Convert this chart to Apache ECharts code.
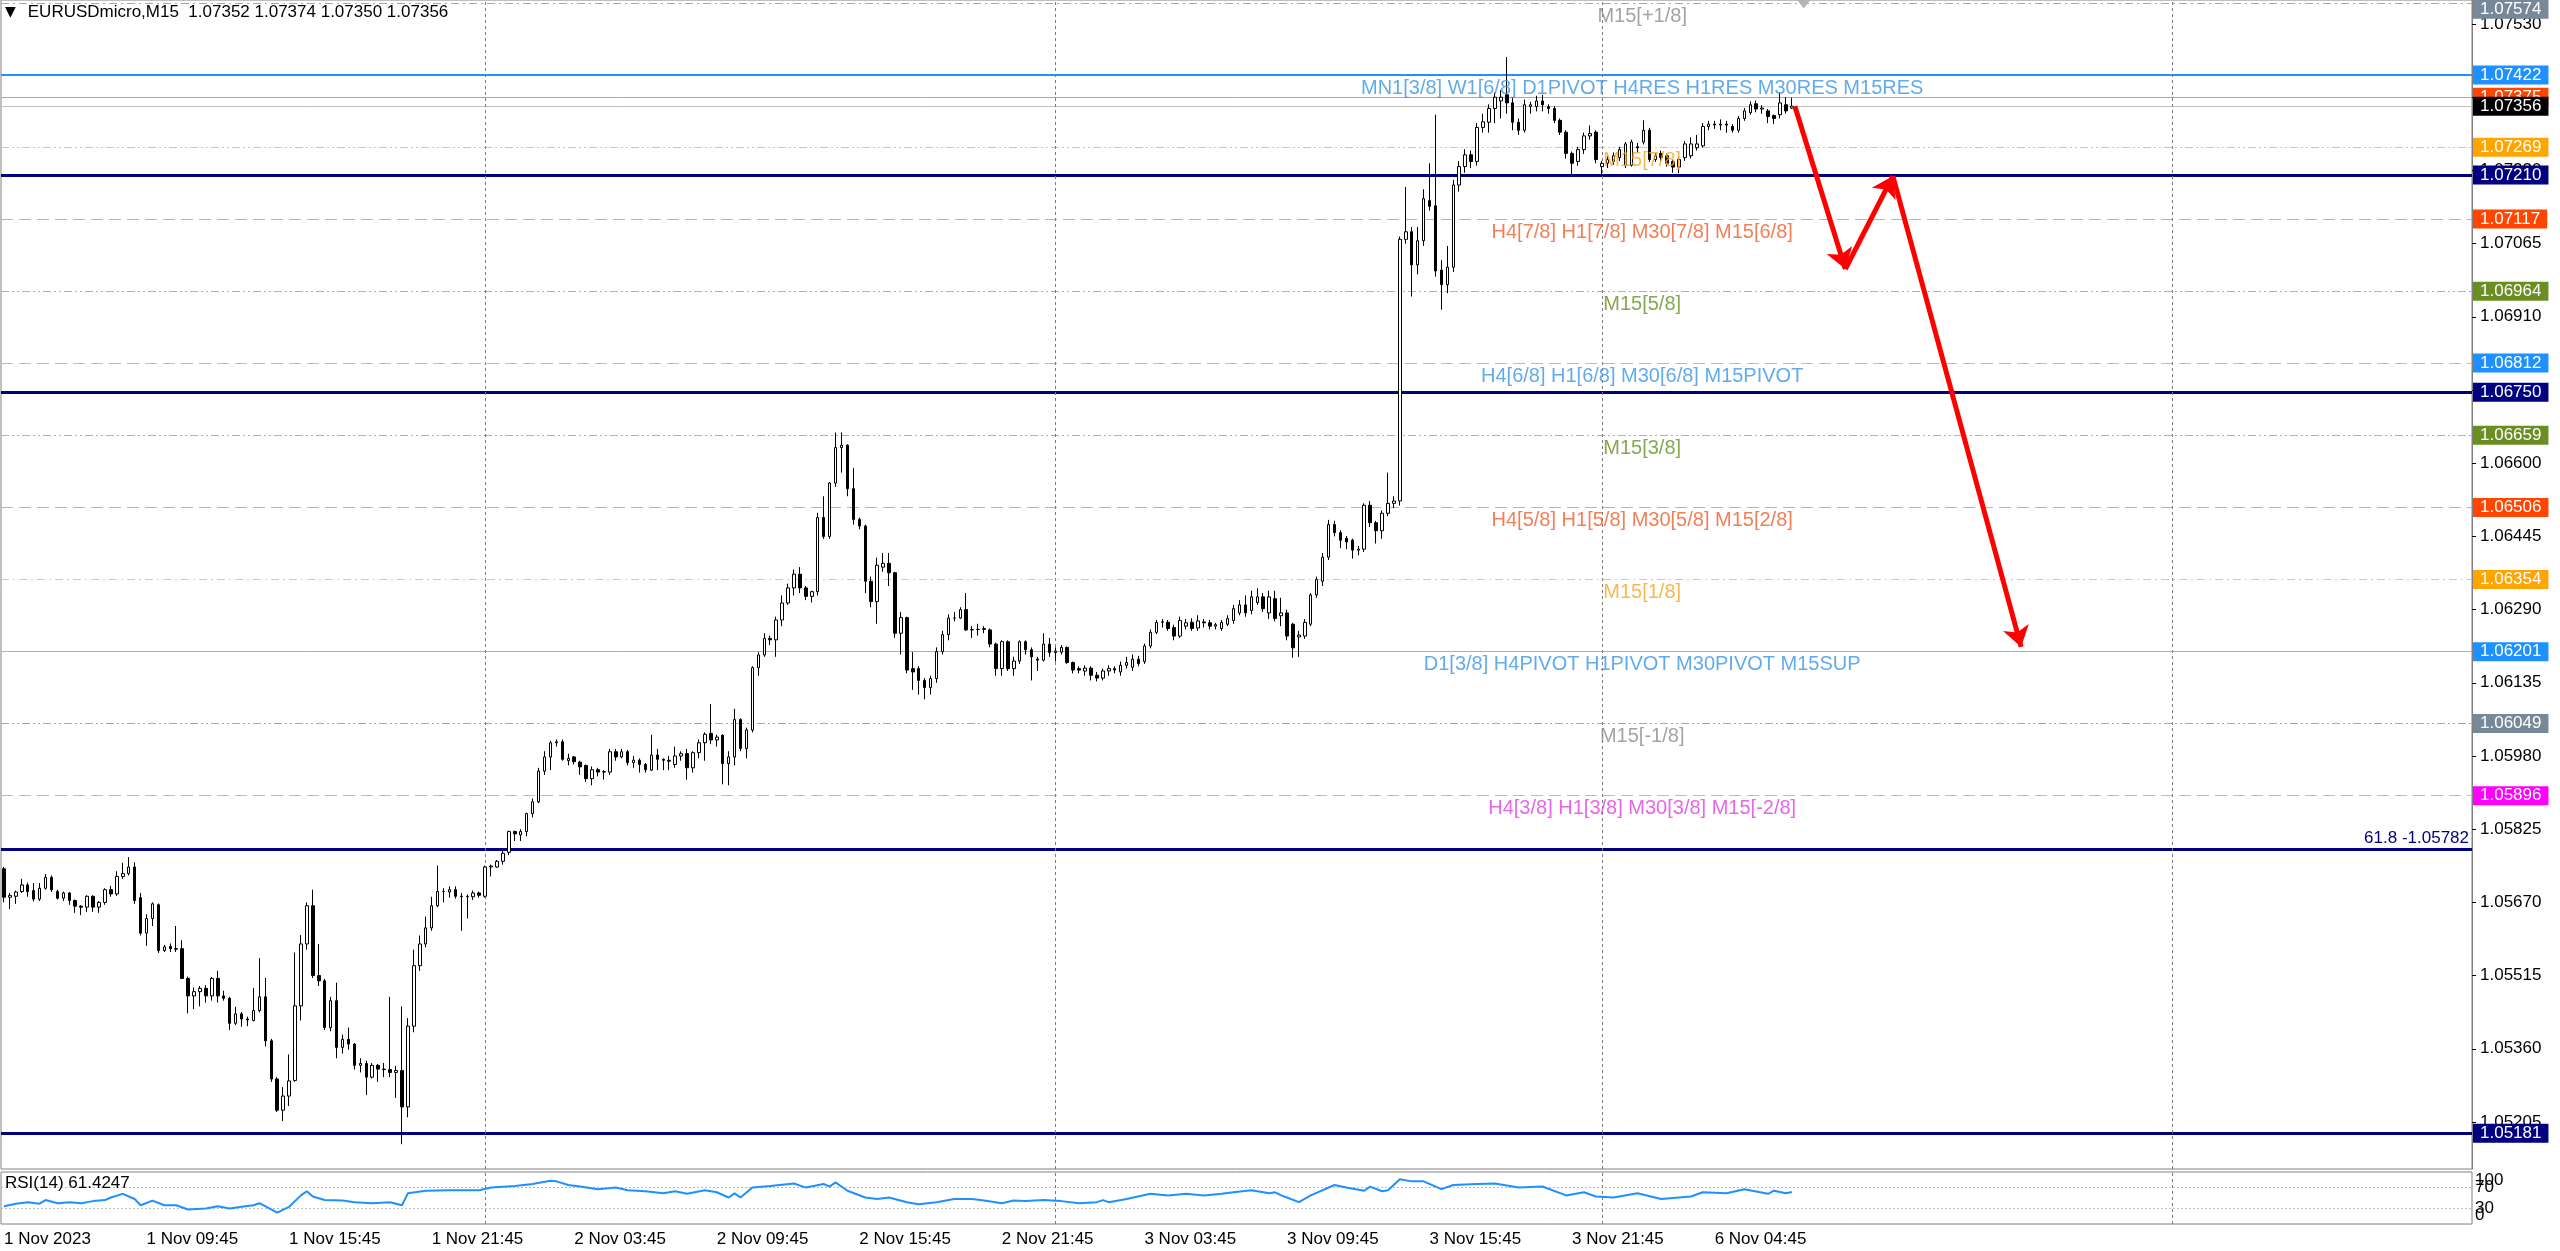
<!DOCTYPE html>
<html><head><meta charset="utf-8">
<script src="https://cdn.jsdelivr.net/npm/echarts@6/dist/echarts.min.js"></script>
<style>html,body{margin:0;padding:0;background:#fff}#c{width:2560px;height:1251px}</style>
</head><body><div id="c"></div>
<script>
// ---------------- DATA ----------------
const symbolName = 'EURUSDmicro';
const timeframe = 'M15';
// M15 bars [open, high, low, close] in points (price * 100000)
const ohlc = [
[105741,105745,105670,105681],[105681,105690,105656,105685],[105683,105695,105667,105692],[105693,105720,105690,105707],
[105707,105712,105682,105693],[105695,105711,105672,105677],[105677,105711,105673,105700],[105700,105730,105697,105723],
[105723,105727,105692,105697],[105693,105697,105676,105679],[105679,105693,105673,105690],[105690,105692,105665,105674],
[105674,105676,105648,105662],[105662,105664,105643,105660],[105660,105685,105650,105683],[105683,105685,105650,105660],
[105660,105673,105648,105670],[105670,105700,105665,105697],[105697,105705,105682,105688],[105688,105736,105684,105725],
[105725,105754,105720,105731],[105731,105766,105727,105745],[105745,105755,105667,105674],[105680,105690,105600,105605],
[105605,105645,105578,105636],[105636,105670,105620,105667],[105665,105668,105563,105568],[105568,105580,105565,105576],
[105577,105583,105565,105572],[105572,105620,105565,105571],[105572,105590,105508,105509],[105509,105513,105435,105472],
[105472,105490,105444,105481],[105481,105493,105450,105488],[105488,105495,105458,105472],[105472,105512,105462,105509],
[105509,105525,105458,105472],[105472,105483,105462,105467],[105467,105470,105400,105414],[105414,105449,105410,105434],
[105434,105438,105407,105423],[105423,105428,105408,105421],[105420,105489,105418,105441],[105441,105552,105437,105470],
[105470,105510,105365,105377],[105377,105381,105290,105296],[105296,105300,105226,105230],[105230,105279,105207,105260],
[105260,105348,105239,105292],[105293,105564,105290,105451],[105451,105601,105420,105582],[105582,105670,105570,105663],
[105663,105697,105510,105515],[105515,105582,105493,105504],[105504,105508,105400,105405],[105405,105470,105397,105462],
[105462,105500,105340,105363],[105363,105390,105350,105380],[105380,105405,105358,105370],[105370,105372,105316,105325],
[105325,105340,105310,105329],[105329,105335,105262,105300],[105300,105330,105297,105325],[105325,105328,105290,105317],
[105317,105330,105300,105316],[105316,105470,105300,105310],[105310,105324,105256,105314],[105314,105450,105158,105237],
[105237,105425,105215,105408],[105408,105570,105395,105536],[105536,105600,105525,105582],[105582,105640,105575,105616],
[105616,105682,105610,105663],[105663,105748,105660,105693],[105693,105700,105670,105693],[105692,105704,105680,105697],
[105697,105704,105678,105683],[105683,105690,105610,105682],[105682,105687,105636,105683],[105682,105695,105675,105690],
[105690,105693,105680,105685],[105683,105748,105680,105745],[105745,105750,105725,105747],[105745,105760,105743,105757],
[105757,105780,105750,105774],[105776,105822,105770,105820],[105820,105822,105800,105815],[105813,105825,105800,105820],
[105820,105860,105810,105858],[105858,105890,105850,105883],[105883,105955,105880,105948],[105948,105990,105940,105978],
[105978,106012,105950,106008],[106008,106015,106000,106010],[106010,106015,105970,105973],[105970,105985,105960,105975],
[105978,105980,105962,105968],[105967,105970,105940,105957],[105960,105962,105925,105932],[105932,105958,105918,105951],
[105951,105955,105937,105946],[105946,105950,105930,105947],[105946,105995,105940,105989],[105989,105995,105970,105978],
[105978,105995,105975,105989],[105989,105993,105960,105966],[105966,105980,105955,105971],[105971,105975,105945,105962],
[105962,105965,105945,105951],[105950,106025,105948,105982],[105982,105995,105950,105973],[105973,105975,105950,105971],
[105971,105980,105950,105969],[105962,106000,105955,105980],[105980,105990,105970,105985],[105985,105995,105930,105955],
[105955,105990,105945,105987],[105987,106015,105975,106008],[106008,106030,105970,106026],[106028,106090,106005,106014],
[106014,106025,106000,106020],[106024,106026,105920,105964],[105964,105990,105918,105978],[105978,106080,105960,106057],
[106057,106060,105990,105996],[105996,106040,105975,106035],[106035,106170,106030,106167],[106167,106200,106150,106194],
[106194,106240,106190,106229],[106229,106235,106215,106226],[106226,106275,106190,106268],[106268,106320,106255,106304],
[106304,106345,106300,106336],[106336,106375,106320,106365],[106365,106380,106325,106336],[106336,106340,106310,106318],
[106318,106330,106305,106328],[106328,106495,106320,106485],[106485,106530,106440,106445],[106445,106560,106440,106558],
[106558,106665,106550,106633],[106633,106665,106580,106638],[106638,106640,106530,106546],[106546,106590,106470,106481],
[106481,106485,106460,106467],[106467,106470,106325,106350],[106350,106360,106295,106307],[106307,106400,106260,106384],
[106380,106410,106370,106388],[106388,106410,106340,106368],[106368,106370,106230,106240],[106240,106285,106195,106273],
[106273,106275,106155,106162],[106165,106200,106120,106158],[106165,106170,106110,106140],[106140,106145,106100,106125],
[106125,106150,106110,106144],[106144,106210,106135,106201],[106201,106245,106195,106237],[106237,106280,106225,106272],
[106272,106285,106265,106272],[106272,106295,106270,106290],[106290,106325,106245,106247],[106247,106255,106230,106248],
[106248,106260,106235,106248],[106248,106255,106240,106250],[106247,106250,106210,106217],[106217,106220,106150,106165],
[106165,106225,106150,106222],[106222,106225,106160,106165],[106165,106190,106150,106181],[106181,106225,106175,106222],
[106222,106225,106195,106205],[106205,106210,106140,106190],[106185,106190,106160,106183],[106183,106240,106180,106217],
[106217,106230,106190,106199],[106199,106210,106180,106202],[106200,106215,106195,106210],[106210,106212,106175,106178],
[106178,106180,106155,106162],[106165,106170,106155,106162],[106160,106172,106150,106166],[106166,106170,106140,106151],
[106151,106158,106138,106145],[106145,106165,106140,106160],[106160,106172,106150,106165],[106165,106170,106155,106162],
[106158,106180,106150,106172],[106172,106190,106165,106178],[106168,106195,106160,106185],[106185,106192,106170,106176],
[106180,106218,106175,106213],[106213,106248,106208,106242],[106242,106268,106238,106263],[106263,106270,106252,106264],
[106263,106268,106245,106250],[106252,106258,106225,106234],[106234,106275,106230,106267],[106255,106270,106248,106262],
[106263,106272,106245,106250],[106251,106278,106245,106266],[106264,106270,106252,106262],[106262,106268,106248,106255],
[106255,106262,106248,106258],[106250,106268,106245,106263],[106259,106278,106255,106271],[106267,106300,106260,106292],
[106283,106310,106278,106300],[106300,106320,106275,106283],[106288,106330,106280,106317],[106305,106335,106300,106317],
[106317,106325,106285,106292],[106283,106330,106270,106317],[106313,106330,106265,106271],[106277,106315,106255,106283],
[106283,106290,106225,106234],[106259,106262,106188,106209],[106232,106245,106190,106236],[106234,106270,106228,106263],
[106259,106325,106255,106321],[106321,106360,106315,106354],[106350,106410,106340,106401],[106401,106480,106395,106470],
[106470,106478,106445,106453],[106453,106458,106420,106437],[106441,106446,106418,106433],[106437,106440,106398,106416],
[106416,106425,106405,106418],[106418,106515,106412,106511],[106511,106520,106465,106474],[106474,106478,106430,106457],
[106457,106500,106440,106494],[106494,106580,106488,106515],[106515,106530,106505,106520],[106520,107080,106510,107074],
[107074,107185,107065,107090],[107090,107100,106953,107020],[107020,107100,107000,107071],[107071,107180,107060,107160],
[107156,107235,107135,107144],[107145,107338,106995,107007],[107009,107030,106925,106978],[106978,107060,106960,107015],
[107015,107200,107005,107189],[107189,107240,107175,107228],[107228,107265,107215,107253],[107253,107262,107225,107239],
[107239,107320,107230,107311],[107311,107340,107300,107323],[107322,107360,107300,107351],[107351,107385,107320,107375],
[107367,107390,107330,107375],[107380,107460,107340,107363],[107363,107375,107305,107322],[107322,107330,107295,107305],
[107305,107370,107300,107359],[107355,107365,107340,107359],[107355,107378,107345,107367],[107367,107380,107345,107359],
[107355,107360,107340,107351],[107351,107356,107320,107326],[107326,107330,107295,107301],[107301,107305,107245,107256],
[107256,107260,107212,107235],[107239,107270,107230,107264],[107264,107300,107255,107293],[107293,107315,107285,107298],
[107301,107305,107235,107243],[107228,107240,107210,107235],[107235,107250,107225,107243],[107239,107258,107232,107251],
[107247,107270,107240,107264],[107231,107280,107225,107276],[107231,107285,107228,107280],[107270,107278,107258,107268],
[107280,107326,107275,107305],[107305,107310,107238,107243],[107243,107256,107238,107251],[107256,107262,107240,107247],
[107251,107256,107228,107235],[107239,107243,107215,107227],[107227,107248,107214,107243],[107247,107282,107240,107276],
[107251,107290,107245,107276],[107268,107295,107262,107276],[107272,107320,107268,107313],[107313,107325,107305,107318],
[107318,107325,107308,107316],[107316,107328,107305,107318],[107318,107325,107300,107316],[107313,107318,107300,107305],
[107305,107335,107300,107330],[107330,107352,107325,107346],[107342,107366,107338,107359],[107361,107368,107343,107350],
[107350,107358,107340,107352],[107346,107350,107320,107334],[107336,107338,107318,107330],[107338,107385,107330,107363],
[107359,107375,107340,107346],[107352,107374,107350,107356]
];
// x-axis time labels, one every 24 bars
const timeLabels = ['1 Nov 2023','1 Nov 09:45','1 Nov 15:45','1 Nov 21:45','2 Nov 03:45','2 Nov 09:45','2 Nov 15:45',
  '2 Nov 21:45','3 Nov 03:45','3 Nov 09:45','3 Nov 15:45','3 Nov 21:45','6 Nov 04:45'];
// right price-axis tick labels
const yTicks = [1.07530,1.07375,1.07220,1.07065,1.06910,1.06755,1.06600,1.06445,1.06290,1.06135,1.05980,1.05825,1.05670,1.05515,1.05360,1.05205];
// horizontal levels and their names
const levelPrice = [1.07574,1.07422,1.07375,1.07269,1.07210,1.07117,1.06964,1.06812,1.06750,1.06659,1.06506,1.06354,1.06201,1.06049,1.05896,1.05782,1.05181];
const levelName = ['M15[+1/8]','MN1[3/8] W1[6/8] D1PIVOT H4RES H1RES M30RES M15RES','','M15[7/8]','',
  'H4[7/8] H1[7/8] M30[7/8] M15[6/8]','M15[5/8]','H4[6/8] H1[6/8] M30[6/8] M15PIVOT','','M15[3/8]',
  'H4[5/8] H1[5/8] M30[5/8] M15[2/8]','M15[1/8]','D1[3/8] H4PIVOT H1PIVOT M30PIVOT M15SUP','M15[-1/8]',
  'H4[3/8] H1[3/8] M30[3/8] M15[-2/8]','',''];
const fibLabel = '61.8';
// RSI(14) readings [bar index, value]
const rsiPoints = [[0,34],[2,39],[4,42],[6,39],[7,46],[9,40],[11,42],[13,40],[15,44],[17,46],[18,51],[20,58],[22,48],[23,36],
[25,45],[27,36],[29,36],[31,28],[34,30],[36,34],[38,30],[40,33],[42,36],[43,40],[45,28],[46,22],[48,33],[50,55],[51,63],[52,53],
[54,46],[57,45],[59,42],[62,40],[65,42],[67,36],[68,59],[71,64],[75,65],[80,65],[82,70],[86,73],[89,77],[92,83],[93,82],[95,75],
[97,72],[100,67],[103,70],[105,65],[108,63],[111,59],[113,63],[115,58],[118,65],[120,61],[122,51],[123,59],[124,51],[126,70],
[129,73],[133,78],[135,70],[138,77],[139,72],[140,80],[142,64],[145,51],[147,48],[149,51],[152,42],[154,38],[157,42],[160,48],
[163,48],[165,45],[168,40],[170,45],[172,44],[175,46],[178,44],[181,40],[184,42],[185,46],[186,42],[189,48],[193,58],[196,55],
[199,58],[202,55],[205,58],[207,61],[210,65],[213,59],[214,61],[215,55],[216,51],[218,42],[220,55],[224,75],[226,70],[229,64],
[230,72],[232,63],[233,65],[235,86],[237,82],[239,82],[242,67],[244,75],[248,77],[251,78],[255,70],[259,72],[263,55],[266,61],
[268,53],[271,51],[275,59],[279,48],[284,53],[286,61],[290,59],[293,67],[297,58],[298,64],[300,59],[301,61.4247]];
const rsiLevels = [30,70];
const rsiBounds = [0,100];
// period separators (bar index of day start)
const separatorIdx = [81,177,269,365];
// drawn red arrow path (bar index, price)
const arrowIdx = [301.5,310,318,339.6];
const arrowPrice = [1.07356,1.07011,1.07208,1.06211];

// ---------------- STYLE / LAYOUT ----------------
const NBARS = 416, LABEL_STEP = 24, LABEL_IDX = 275.8;
const YMIN = 1.051055, YMAX = 1.075808;
const FONT = '"Liberation Sans", Arial, "DejaVu Sans", sans-serif';
const DASH = [12,6], DASHDOT = [8,4,2,4], DASHDOTDOT = [8,3,2,3,2,3];
const levelStyle = [
 {line:'#A8A8A8', type:DASHDOT, w:1, box:'#778899', text:'#8C8C8C', dy:6},
 {line:'#1E90FF', type:'solid', w:2, box:'#1E90FF', text:'#3A96E8'},
 {line:'#E89070', type:'solid', w:1, box:'#FF4500'},
 {line:'#D8D070', type:DASHDOTDOT, w:1, box:'#FFA500', text:'#F5A623'},
 {line:'#000080', type:'solid', w:3, box:'#000080'},
 {line:'#E8A488', type:DASH, w:1, box:'#FF4500', text:'#EF5E2B'},
 {line:'#B4B48C', type:DASHDOTDOT, w:1, box:'#6B8E23', text:'#6B8E23'},
 {line:'#96C3EA', type:DASH, w:1, box:'#1E90FF', text:'#3A96E8'},
 {line:'#000080', type:'solid', w:3, box:'#000080'},
 {line:'#B4B48C', type:DASHDOTDOT, w:1, box:'#6B8E23', text:'#6B8E23'},
 {line:'#E8A488', type:DASH, w:1, box:'#FF4500', text:'#EF5E2B'},
 {line:'#E6C878', type:DASHDOT, w:1, box:'#FFA500', text:'#F5A623'},
 {line:'#88B8E4', type:'solid', w:1, box:'#1E90FF', text:'#3A96E8'},
 {line:'#A8A8A8', type:DASHDOTDOT, w:1, box:'#778899', text:'#8C8C8C'},
 {line:'#DCA6DC', type:DASH, w:1, box:'#FF00FF', text:'#E23EE2'},
 {line:'#000080', type:'solid', w:3, box:null},
 {line:'#000080', type:'solid', w:3, box:'#000080'}
];

const P = v => v / 1e5;
const last = ohlc[ohlc.length - 1];
const bid = P(last[3]);
const cats = Array.from({length:NBARS}, (_, i) => String(i));
const timeCats = Array.from({length:NBARS}, (_, i) =>
  (i % LABEL_STEP === 0 && i / LABEL_STEP < timeLabels.length) ? timeLabels[i / LABEL_STEP] : '');
const candles = ohlc.map(r => [P(r[0]), P(r[3]), P(r[2]), P(r[1])]);

function boxLabel(val, color, dy) {
  return {show:true, position:'end', formatter: val.toFixed(5), backgroundColor: color, color:'#fff',
    padding:[1,7,1,7], fontSize:17, lineHeight:17, fontFamily:FONT, distance:1, offset:[0, dy || 0]};
}
const levelLineData = levelPrice.map((p, k) => {
  const s = levelStyle[k];
  const d = {yAxis:p, lineStyle:{color:s.line, type:s.type, width:s.w}};
  d.label = s.box ? boxLabel(p, s.box, s.dy)
    : {show:true, position:'insideEndTop', formatter: fibLabel + ' -' + p.toFixed(5), color:'#000080',
       fontSize:17, fontFamily:FONT, distance:3};
  return d;
});
levelLineData.push({yAxis:bid, lineStyle:{color:'#C0C0C0', type:'solid', width:1}, label: boxLabel(bid, '#000000')});
separatorIdx.forEach(x => levelLineData.push({xAxis:x, lineStyle:{color:'#7A7A7A', type:[3,3], width:1}, label:{show:false}}));

const nameData = [];
levelPrice.forEach((p, k) => { if (levelName[k]) nameData.push({name:levelName[k], value:[LABEL_IDX, p], label:{color:levelStyle[k].text}}); });

const arrowPts = arrowIdx.map((x, k) => [x, arrowPrice[k]]);
const arrowSegs = arrowPts.slice(1).map((p, k) => [{coord:arrowPts[k]}, {coord:p}]);

const f5 = v => P(v).toFixed(5);
const header = '{t|▼}' + symbolName + ',' + timeframe + '  ' + f5(last[0]) + ' ' + f5(last[1]) + ' ' + f5(last[2]) + ' ' + f5(last[3]);
const rsiLast = rsiPoints[rsiPoints.length - 1][1];

const rsiAxisBase = {type:'value', gridIndex:1, position:'right', min:0, max:100,
  axisLine:{show:false, onZero:false}, axisTick:{show:false}, splitLine:{show:false}};
const rsiLabelBase = {fontSize:17, margin:3, color:'#000', fontFamily:FONT, showMinLabel:true, showMaxLabel:true, hideOverlap:false};

const chart = echarts.init(document.getElementById('c'), null, {renderer:'canvas', width:2560, height:1251});
chart.setOption({
  animation:false,
  backgroundColor:'#ffffff',
  textStyle:{fontFamily:FONT},
  title:[
    {left:5, top:4, padding:0, text:header,
     textStyle:{fontSize:17, fontWeight:'normal', color:'#000', fontFamily:FONT,
       rich:{t:{fontSize:14, fontFamily:'"DejaVu Sans"', padding:[0,12,0,0], color:'#000'}}}},
    {left:5, top:1175, padding:0, text:'RSI(14) ' + rsiLast.toFixed(4),
     textStyle:{fontSize:17, fontWeight:'normal', color:'#000', fontFamily:FONT}}
  ],
  grid:[
    {left:1, top:0, width:2471, height:1169, show:true, borderColor:'#808080', borderWidth:1, outerBoundsMode:'none'},
    {left:1, top:1172, width:2471, height:52, show:true, borderColor:'#808080', borderWidth:1, outerBoundsMode:'none'}
  ],
  xAxis:[
    {type:'category', gridIndex:0, data:cats, show:false, boundaryGap:true},
    {type:'value', gridIndex:0, min:-0.5, max:NBARS - 0.5, show:false},
    {type:'category', gridIndex:1, data:timeCats, boundaryGap:true, axisLine:{show:false}, axisTick:{show:false},
     splitLine:{show:false},
     axisLabel:{interval:0, align:'left', margin:7, fontSize:17, color:'#000', fontFamily:FONT}},
    {type:'value', gridIndex:1, min:-0.5, max:NBARS - 0.5, show:false}
  ],
  yAxis:[
    {type:'value', gridIndex:0, position:'right', min:YMIN, max:YMAX,
     axisLine:{show:true, onZero:false, lineStyle:{color:'#808080'}},
     axisTick:{show:true, length:4, lineStyle:{color:'#000'}, customValues:yTicks},
     axisLabel:{customValues:yTicks, formatter:v => v.toFixed(5), fontSize:17, color:'#000', margin:8, fontFamily:FONT,
       hideOverlap:false},
     splitLine:{show:false}},
    Object.assign({}, rsiAxisBase, {axisLabel:Object.assign({}, rsiLabelBase, {customValues:rsiLevels})}),
    Object.assign({}, rsiAxisBase, {axisLabel:Object.assign({}, rsiLabelBase, {customValues:rsiBounds,
       verticalAlignMinLabel:'bottom', verticalAlignMaxLabel:'top'})})
  ],
  series:[
    {type:'scatter', name:'levels', xAxisIndex:1, yAxisIndex:0, data:levelPrice.map(p => [LABEL_IDX, p]),
     symbolSize:0, silent:true, z:1, itemStyle:{color:'rgba(0,0,0,0)'},
     markLine:{z:1, silent:true, precision:6, symbol:['none','none'], animation:false, data:levelLineData}},
    {type:'candlestick', name:'price', xAxisIndex:0, yAxisIndex:0, data:candles, barWidth:3, z:2,
     itemStyle:{color:'#ffffff', color0:'#000000', borderColor:'#000000', borderColor0:'#000000', borderWidth:1}},
    {type:'scatter', name:'levelNames', xAxisIndex:1, yAxisIndex:0, data:nameData, symbolSize:1, silent:true, z:3,
     itemStyle:{color:'rgba(0,0,0,0)'},
     label:{show:true, formatter:'{b}', position:'inside', offset:[0,13], fontSize:20, fontFamily:FONT}},
    {type:'scatter', name:'arrows', xAxisIndex:1, yAxisIndex:0, data:arrowPts, symbolSize:0, silent:true, z:5,
     itemStyle:{color:'rgba(0,0,0,0)'},
     markLine:{z:6, silent:true, precision:6, symbol:['none','arrow'], symbolSize:20, label:{show:false},
       lineStyle:{color:'#FF0000', width:5, type:'solid'}, data:arrowSegs},
     markPoint:{z:6, silent:true, symbol:'triangle', symbolRotate:180, symbolSize:[14,9], symbolOffset:[0,4],
       itemStyle:{color:'#B4B4B4'}, label:{show:false}, data:[{coord:[ohlc.length + 1, YMAX]}]}},
    {type:'line', name:'RSI', xAxisIndex:3, yAxisIndex:1, data:rsiPoints, showSymbol:false, symbol:'none',
     lineStyle:{color:'#1E90FF', width:2}, z:3, silent:true,
     markLine:{z:1, silent:true, precision:6, symbol:['none','none'], label:{show:false},
       data:[...rsiLevels.map(v => ({yAxis:v, lineStyle:{color:'#BEBEBE', type:[2,2], width:1}})),
             ...separatorIdx.map(x => ({xAxis:x, lineStyle:{color:'#7A7A7A', type:[3,3], width:1}}))]}}
  ]
});
</script>
</body></html>
